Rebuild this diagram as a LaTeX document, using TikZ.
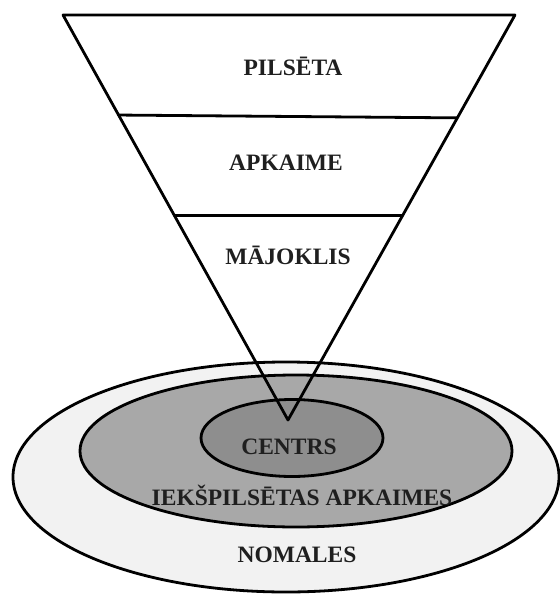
\documentclass[tikz,border=0pt]{standalone}
\usepackage{fontspec}
\setmainfont{Liberation Serif}
\usetikzlibrary{calc, shapes.geometric}
\definecolor{zoneout}{RGB}{242,242,242}
\definecolor{zonemid}{RGB}{168,168,168}
\definecolor{zonein}{RGB}{142,142,142}

\begin{document}
\begin{tikzpicture}[
      x=1pt, y=-1pt,
      zone/.style={ellipse, draw=black, line width=2.8pt, inner sep=0pt},
      lbl/.style={font=\bfseries\fontsize{23.5}{23.5}\selectfont, text=black!88,
                  inner sep=0pt, text height=15.5pt, text depth=0pt},
      edge/.style={line width=2.8pt, line cap=round, line join=round}
    ]
    \useasboundingbox (0,0) rectangle (560,595);

    % rings
    \node[zone, fill=zoneout, minimum width=546pt, minimum height=230pt] (nomales) at (286,477) {};
    \node[zone, fill=zonemid, minimum width=432pt, minimum height=152pt] (apkaimes) at (296,451) {};
    \node[zone, fill=zonein, minimum width=182pt, minimum height=77pt] (centrs) at (292,438) {};

    \node[lbl] (centrslbl) at (289,447) {CENTRS};
    \node[lbl] (apkaimeslbl) at (302,498) {IEKŠPILSĒTAS APKAIMES};
    \node[lbl] (nomaleslbl) at (297,555) {NOMALES};

    % funnel
    \coordinate (tl) at (63,15);
    \coordinate (tr) at (515,15);
    \coordinate (apex) at (288,420);
    \draw[edge] (tl) -- (tr) -- (apex) -- cycle;
    \draw[edge] ($(tl)!0.247!(apex)$) -- ($(tr)!0.254!(apex)$);
    \draw[edge] ($(tl)!0.496!(apex)$) -- ($(tr)!0.496!(apex)$);

    \node[lbl] (pilseta) at (293,68) {PILSĒTA};
    \node[lbl] (apkaime) at (286,163) {APKAIME};
    \node[lbl] (majoklis) at (288,257) {MĀJOKLIS};
  \end{tikzpicture}
\end{document}
